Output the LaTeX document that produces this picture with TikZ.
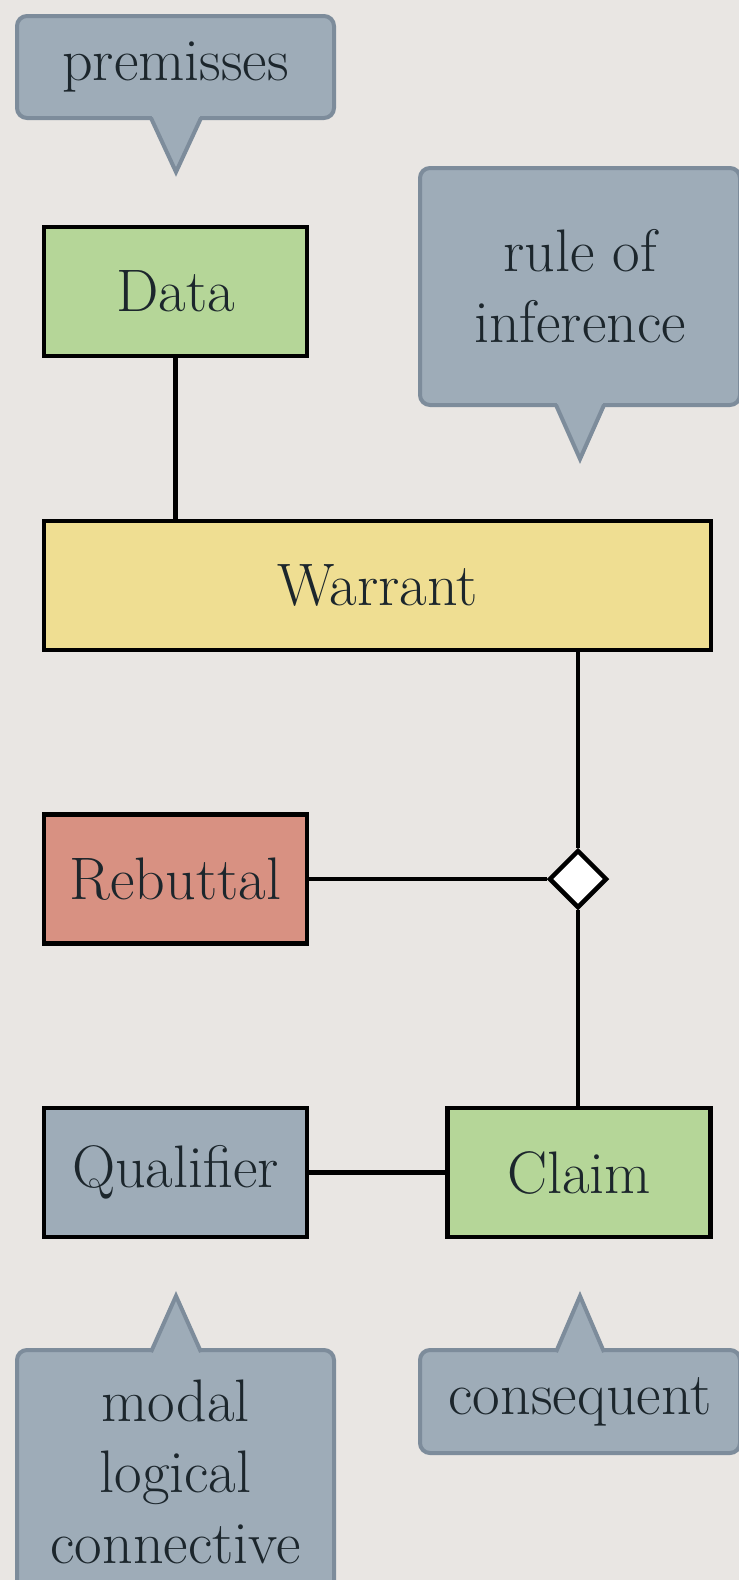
\documentclass[tikz,border=0pt]{standalone}
\usetikzlibrary{shapes.geometric}

\definecolor{paper}{RGB}{233,230,227}
\definecolor{notefill}{RGB}{158,172,184}
\definecolor{noteedge}{RGB}{125,140,155}
\definecolor{datagreen}{RGB}{181,214,152}
\definecolor{warrantyellow}{RGB}{239,222,146}
\definecolor{rebuttalred}{RGB}{216,145,130}
\definecolor{ink}{RGB}{28,38,44}

\newcommand\bigfont{\fontsize{60}{71}\selectfont}

\tikzset{
  box/.style={draw=black, line width=4.5pt, minimum width=263pt, minimum height=129pt,
    inner sep=0pt, font=\bigfont, text=ink},
  note/.style={draw=noteedge, fill=notefill, line width=4pt, rounded corners=10pt,
    inner sep=0pt, font=\bigfont, text=ink, align=center},
  tailfill/.style={fill=notefill},
  tailedge/.style={draw=noteedge, line width=4pt},
  link/.style={line width=4.5pt}
}

\begin{document}
\begin{tikzpicture}[x=1pt, y=-1pt]
    \useasboundingbox (0,0) rectangle (739,1580);
    \clip (0,0) rectangle (739,1580);
    \fill[paper] (0,0) rectangle (739,1580);

    % callouts on top
    \node[note, minimum width=317pt, minimum height=102pt] (prem) at (175.5,67) {premisses};
    \fill[tailfill] (151,114) -- (176,172) -- (201,114) -- cycle;
    \draw[tailedge] (151,118) -- (176,172) -- (201,118);
    \node[note, minimum width=320pt, minimum height=237pt] (rule) at (580,286.5) {rule of\\inference};
    \fill[tailfill] (556,401) -- (580,459) -- (604,401) -- cycle;
    \draw[tailedge] (556,405) -- (580,459) -- (604,405);

    % the argument
    \node[box, fill=datagreen] (data) at (175.5,291.5) {Data};
    \node[box, fill=warrantyellow, minimum width=667pt] (warrant) at (377.5,585.5) {Warrant};
    \node[box, fill=rebuttalred] (rebuttal) at (175.5,879) {Rebuttal};
    \node[diamond, draw=black, fill=white, line width=4.5pt, minimum size=58pt, inner sep=0pt] (joint) at (578,879) {};
    \node[box, fill=notefill] (qualifier) at (175.5,1172.5) {Qualifier};
    \node[box, fill=datagreen] (claim) at (579,1172.5) {Claim};

    \draw[link] (data.south) -- (data.south |- warrant.north);
    \draw[link] (warrant.south -| joint) -- (joint.north);
    \draw[link] (joint.west) -- (rebuttal.east);
    \draw[link] (joint.south) -- (claim.north -| joint);
    \draw[link] (qualifier.east) -- (claim.west);

    % callouts below
    \node[note, minimum width=317pt, minimum height=244pt] (modal) at (175.5,1472) {modal\\logical\\connective};
    \fill[tailfill] (151,1356) -- (176,1296) -- (201,1356) -- cycle;
    \draw[tailedge] (151,1352) -- (176,1296) -- (201,1352);
    \node[note, minimum width=320pt, minimum height=103pt] (conseq) at (580,1401.5) {consequent};
    \fill[tailfill] (556,1356) -- (580,1296) -- (604,1356) -- cycle;
    \draw[tailedge] (556,1352) -- (580,1296) -- (604,1352);
\end{tikzpicture}
\end{document}
